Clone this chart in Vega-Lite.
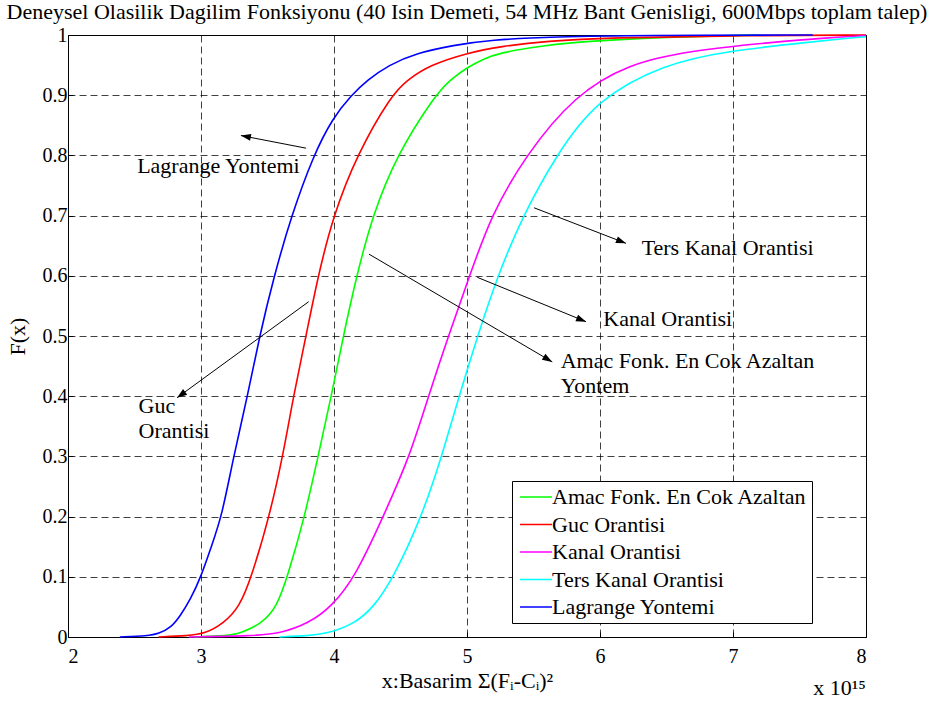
{
  "$schema": "https://vega.github.io/schema/vega-lite/v6.json",
  "width": 798,
  "height": 602,
  "autosize": "none",
  "padding": {"left": 68, "top": 35, "right": 64, "bottom": 69},
  "background": "white",
  "title": {
    "text": "Deneysel Olasilik Dagilim Fonksiyonu (40 Isin Demeti, 54 MHz Bant Genisligi, 600Mbps toplam talep)",
    "font": "Liberation Serif",
    "fontSize": 22,
    "fontWeight": "normal",
    "color": "black",
    "anchor": "middle",
    "offset": 1
  },
  "config": {
    "view": {"stroke": "black", "strokeWidth": 1},
    "axis": {
      "grid": true,
      "gridColor": "black",
      "gridOpacity": 0.75,
      "gridDash": [7, 4],
      "gridWidth": 1,
      "domainColor": "black",
      "tickColor": "black",
      "tickSize": -5,
      "labelFont": "Liberation Serif",
      "labelFontSize": 20,
      "labelColor": "black",
      "titleFont": "Liberation Serif",
      "titleFontSize": 22,
      "titleFontWeight": "normal",
      "titleColor": "black"
    },
    "legend": {
      "orient": "none",
      "legendX": 444,
      "legendY": 446,
      "title": null,
      "strokeColor": "black",
      "fillColor": "white",
      "padding": 5,
      "labelFont": "Liberation Serif",
      "labelFontSize": 22,
      "labelColor": "black",
      "labelLimit": 0,
      "symbolType": "M-2,0H2",
      "symbolSize": 256,
      "symbolStrokeWidth": 1.5,
      "symbolOffset": 8,
      "labelOffset": 5,
      "rowPadding": 5.5
    }
  },
  "datasets": {
    "curves": [
      {"s": "Amac Fonk. En Cok Azaltan", "x": 2.95, "F": 0},
      {"s": "Amac Fonk. En Cok Azaltan", "x": 3.2, "F": 0.002},
      {"s": "Amac Fonk. En Cok Azaltan", "x": 3.29, "F": 0.0055},
      {"s": "Amac Fonk. En Cok Azaltan", "x": 3.46, "F": 0.0227},
      {"s": "Amac Fonk. En Cok Azaltan", "x": 3.57, "F": 0.05},
      {"s": "Amac Fonk. En Cok Azaltan", "x": 3.65, "F": 0.1},
      {"s": "Amac Fonk. En Cok Azaltan", "x": 3.78, "F": 0.2},
      {"s": "Amac Fonk. En Cok Azaltan", "x": 3.88, "F": 0.3},
      {"s": "Amac Fonk. En Cok Azaltan", "x": 3.98, "F": 0.4},
      {"s": "Amac Fonk. En Cok Azaltan", "x": 4.07, "F": 0.5},
      {"s": "Amac Fonk. En Cok Azaltan", "x": 4.17, "F": 0.6},
      {"s": "Amac Fonk. En Cok Azaltan", "x": 4.29, "F": 0.7},
      {"s": "Amac Fonk. En Cok Azaltan", "x": 4.47, "F": 0.8},
      {"s": "Amac Fonk. En Cok Azaltan", "x": 4.76, "F": 0.9},
      {"s": "Amac Fonk. En Cok Azaltan", "x": 4.87, "F": 0.925},
      {"s": "Amac Fonk. En Cok Azaltan", "x": 5.0, "F": 0.946},
      {"s": "Amac Fonk. En Cok Azaltan", "x": 5.12, "F": 0.96},
      {"s": "Amac Fonk. En Cok Azaltan", "x": 5.25, "F": 0.9706},
      {"s": "Amac Fonk. En Cok Azaltan", "x": 5.55, "F": 0.982},
      {"s": "Amac Fonk. En Cok Azaltan", "x": 5.93, "F": 0.99},
      {"s": "Amac Fonk. En Cok Azaltan", "x": 6.48, "F": 0.9965},
      {"s": "Amac Fonk. En Cok Azaltan", "x": 7.2, "F": 1},

      {"s": "Guc Orantisi", "x": 2.68, "F": 0},
      {"s": "Guc Orantisi", "x": 2.9, "F": 0.002},
      {"s": "Guc Orantisi", "x": 3.03, "F": 0.0055},
      {"s": "Guc Orantisi", "x": 3.17, "F": 0.0227},
      {"s": "Guc Orantisi", "x": 3.29, "F": 0.05},
      {"s": "Guc Orantisi", "x": 3.38, "F": 0.1},
      {"s": "Guc Orantisi", "x": 3.514, "F": 0.2},
      {"s": "Guc Orantisi", "x": 3.615, "F": 0.3},
      {"s": "Guc Orantisi", "x": 3.695, "F": 0.4},
      {"s": "Guc Orantisi", "x": 3.79, "F": 0.5},
      {"s": "Guc Orantisi", "x": 3.88, "F": 0.6},
      {"s": "Guc Orantisi", "x": 3.995, "F": 0.7},
      {"s": "Guc Orantisi", "x": 4.17, "F": 0.8},
      {"s": "Guc Orantisi", "x": 4.43, "F": 0.9},
      {"s": "Guc Orantisi", "x": 4.55, "F": 0.925},
      {"s": "Guc Orantisi", "x": 4.72, "F": 0.95},
      {"s": "Guc Orantisi", "x": 5.0, "F": 0.97},
      {"s": "Guc Orantisi", "x": 5.25, "F": 0.981},
      {"s": "Guc Orantisi", "x": 5.6, "F": 0.99},
      {"s": "Guc Orantisi", "x": 6.07, "F": 0.9955},
      {"s": "Guc Orantisi", "x": 7.0, "F": 0.999},
      {"s": "Guc Orantisi", "x": 8.0, "F": 1},

      {"s": "Kanal Orantisi", "x": 2.91, "F": 0},
      {"s": "Kanal Orantisi", "x": 3.4, "F": 0.002},
      {"s": "Kanal Orantisi", "x": 3.59, "F": 0.0055},
      {"s": "Kanal Orantisi", "x": 3.81, "F": 0.0227},
      {"s": "Kanal Orantisi", "x": 3.98, "F": 0.05},
      {"s": "Kanal Orantisi", "x": 4.16, "F": 0.1},
      {"s": "Kanal Orantisi", "x": 4.37, "F": 0.2},
      {"s": "Kanal Orantisi", "x": 4.57, "F": 0.3},
      {"s": "Kanal Orantisi", "x": 4.71, "F": 0.4},
      {"s": "Kanal Orantisi", "x": 4.86, "F": 0.5},
      {"s": "Kanal Orantisi", "x": 5.02, "F": 0.6},
      {"s": "Kanal Orantisi", "x": 5.18, "F": 0.7},
      {"s": "Kanal Orantisi", "x": 5.44, "F": 0.8},
      {"s": "Kanal Orantisi", "x": 5.81, "F": 0.9},
      {"s": "Kanal Orantisi", "x": 6.21, "F": 0.952},
      {"s": "Kanal Orantisi", "x": 6.67, "F": 0.974},
      {"s": "Kanal Orantisi", "x": 7.3, "F": 0.988},
      {"s": "Kanal Orantisi", "x": 7.71, "F": 0.9955},
      {"s": "Kanal Orantisi", "x": 8.0, "F": 0.999},

      {"s": "Ters Kanal Orantisi", "x": 3.59, "F": 0},
      {"s": "Ters Kanal Orantisi", "x": 3.8, "F": 0.002},
      {"s": "Ters Kanal Orantisi", "x": 3.95, "F": 0.0055},
      {"s": "Ters Kanal Orantisi", "x": 4.16, "F": 0.0227},
      {"s": "Ters Kanal Orantisi", "x": 4.3, "F": 0.05},
      {"s": "Ters Kanal Orantisi", "x": 4.45, "F": 0.1},
      {"s": "Ters Kanal Orantisi", "x": 4.66, "F": 0.2},
      {"s": "Ters Kanal Orantisi", "x": 4.81, "F": 0.3},
      {"s": "Ters Kanal Orantisi", "x": 4.94, "F": 0.4},
      {"s": "Ters Kanal Orantisi", "x": 5.08, "F": 0.5},
      {"s": "Ters Kanal Orantisi", "x": 5.23, "F": 0.6},
      {"s": "Ters Kanal Orantisi", "x": 5.42, "F": 0.7},
      {"s": "Ters Kanal Orantisi", "x": 5.67, "F": 0.8},
      {"s": "Ters Kanal Orantisi", "x": 5.97, "F": 0.892},
      {"s": "Ters Kanal Orantisi", "x": 6.48, "F": 0.952},
      {"s": "Ters Kanal Orantisi", "x": 6.97, "F": 0.974},
      {"s": "Ters Kanal Orantisi", "x": 7.57, "F": 0.988},
      {"s": "Ters Kanal Orantisi", "x": 7.9, "F": 0.9955},
      {"s": "Ters Kanal Orantisi", "x": 8.0, "F": 0.997},

      {"s": "Lagrange Yontemi", "x": 2.39, "F": 0},
      {"s": "Lagrange Yontemi", "x": 2.6, "F": 0.002},
      {"s": "Lagrange Yontemi", "x": 2.68, "F": 0.005},
      {"s": "Lagrange Yontemi", "x": 2.78, "F": 0.017},
      {"s": "Lagrange Yontemi", "x": 2.84, "F": 0.034},
      {"s": "Lagrange Yontemi", "x": 2.92, "F": 0.062},
      {"s": "Lagrange Yontemi", "x": 3.0, "F": 0.1},
      {"s": "Lagrange Yontemi", "x": 3.08, "F": 0.152},
      {"s": "Lagrange Yontemi", "x": 3.156, "F": 0.2},
      {"s": "Lagrange Yontemi", "x": 3.245, "F": 0.3},
      {"s": "Lagrange Yontemi", "x": 3.35, "F": 0.4},
      {"s": "Lagrange Yontemi", "x": 3.44, "F": 0.5},
      {"s": "Lagrange Yontemi", "x": 3.55, "F": 0.6},
      {"s": "Lagrange Yontemi", "x": 3.68, "F": 0.7},
      {"s": "Lagrange Yontemi", "x": 3.845, "F": 0.8},
      {"s": "Lagrange Yontemi", "x": 3.99, "F": 0.862},
      {"s": "Lagrange Yontemi", "x": 4.13, "F": 0.9},
      {"s": "Lagrange Yontemi", "x": 4.25, "F": 0.925},
      {"s": "Lagrange Yontemi", "x": 4.41, "F": 0.95},
      {"s": "Lagrange Yontemi", "x": 4.62, "F": 0.97},
      {"s": "Lagrange Yontemi", "x": 4.9, "F": 0.983},
      {"s": "Lagrange Yontemi", "x": 5.17, "F": 0.992},
      {"s": "Lagrange Yontemi", "x": 5.66, "F": 0.997},
      {"s": "Lagrange Yontemi", "x": 6.3, "F": 0.9995},
      {"s": "Lagrange Yontemi", "x": 7.6, "F": 1}
    ],
    "arrows": [
      {"x": 3.79, "F": 0.812, "x2": 3.30, "F2": 0.833},
      {"x": 3.81, "F": 0.557, "x2": 2.82, "F2": 0.3975},
      {"x": 4.263, "F": 0.636, "x2": 5.641, "F2": 0.457},
      {"x": 5.077, "F": 0.5975, "x2": 5.895, "F2": 0.5238},
      {"x": 5.504, "F": 0.713, "x2": 6.195, "F2": 0.654}
    ],
    "labels": [
      {"x": 2.52, "F": 0.7703, "t": "Lagrange Yontemi"},
      {"x": 2.53, "F": 0.3716, "t": "Guc\nOrantisi"},
      {"x": 5.704, "F": 0.4474, "t": "Amac Fonk. En Cok Azaltan\nYontem"},
      {"x": 6.025, "F": 0.5166, "t": "Kanal Orantisi"},
      {"x": 6.313, "F": 0.6346, "t": "Ters Kanal Orantisi"}
    ]
  },
  "layer": [
    {
      "data": {"name": "curves"},
      "mark": {"type": "line", "interpolate": "basis", "strokeWidth": 1.6},
      "encoding": {
        "x": {
          "field": "x",
          "type": "quantitative",
          "scale": {"domain": [2, 8], "nice": false, "zero": false},
          "axis": {
            "values": [2, 3, 4, 5, 6, 7, 8],
            "format": "~g",
            "title": "x:Basarim Σ(Fᵢ-Cᵢ)²",
            "labelPadding": 14,
            "titlePadding": 4
          }
        },
        "y": {
          "field": "F",
          "type": "quantitative",
          "scale": {"domain": [0, 1], "nice": false, "zero": false},
          "axis": {
            "values": [0, 0.1, 0.2, 0.3, 0.4, 0.5, 0.6, 0.7, 0.8, 0.9, 1],
            "format": "~g",
            "title": "F(x)",
            "labelPadding": 6,
            "titlePadding": 13
          }
        },
        "color": {
          "field": "s",
          "type": "nominal",
          "scale": {
            "domain": ["Amac Fonk. En Cok Azaltan", "Guc Orantisi", "Kanal Orantisi", "Ters Kanal Orantisi", "Lagrange Yontemi"],
            "range": ["#00ff00", "#ff0000", "#ff00ff", "#00ffff", "#0000ff"]
          },
          "legend": {}
        }
      }
    },
    {
      "data": {"name": "arrows"},
      "mark": {"type": "rule", "color": "black", "strokeWidth": 1},
      "encoding": {
        "x": {"field": "x", "type": "quantitative", "axis": {"title": "x:Basarim Σ(Fᵢ-Cᵢ)²"}},
        "y": {"field": "F", "type": "quantitative", "axis": {"title": "F(x)"}},
        "x2": {"field": "x2"},
        "y2": {"field": "F2"}
      }
    },
    {
      "data": {"name": "arrows"},
      "transform": [
        {"calculate": "atan2((datum.F - datum.F2) * 602, (datum.x2 - datum.x) * 133) * 180 / PI", "as": "heading"}
      ],
      "mark": {"type": "point", "shape": "M0,0L-2,-0.7L-2,0.7Z", "filled": true, "color": "black", "size": 100, "opacity": 1},
      "encoding": {
        "x": {"field": "x2", "type": "quantitative", "axis": {"title": "x:Basarim Σ(Fᵢ-Cᵢ)²"}},
        "y": {"field": "F2", "type": "quantitative", "axis": {"title": "F(x)"}},
        "angle": {"field": "heading", "type": "quantitative", "scale": null}
      }
    },
    {
      "data": {"name": "labels"},
      "mark": {"type": "text", "align": "left", "baseline": "alphabetic", "font": "Liberation Serif", "fontSize": 22, "lineBreak": "\n", "lineHeight": 25, "color": "black"},
      "encoding": {
        "x": {"field": "x", "type": "quantitative", "axis": {"title": "x:Basarim Σ(Fᵢ-Cᵢ)²"}},
        "y": {"field": "F", "type": "quantitative", "axis": {"title": "F(x)"}},
        "text": {"field": "t"}
      }
    },
    {
      "data": {"values": [{"x": 8, "F": -0.096, "t": "x 10¹⁵"}]},
      "mark": {"type": "text", "align": "right", "baseline": "alphabetic", "font": "Liberation Serif", "fontSize": 22, "color": "black"},
      "encoding": {
        "x": {"field": "x", "type": "quantitative", "axis": {"title": "x:Basarim Σ(Fᵢ-Cᵢ)²"}},
        "y": {"field": "F", "type": "quantitative", "axis": {"title": "F(x)"}},
        "text": {"field": "t"}
      }
    }
  ]
}
